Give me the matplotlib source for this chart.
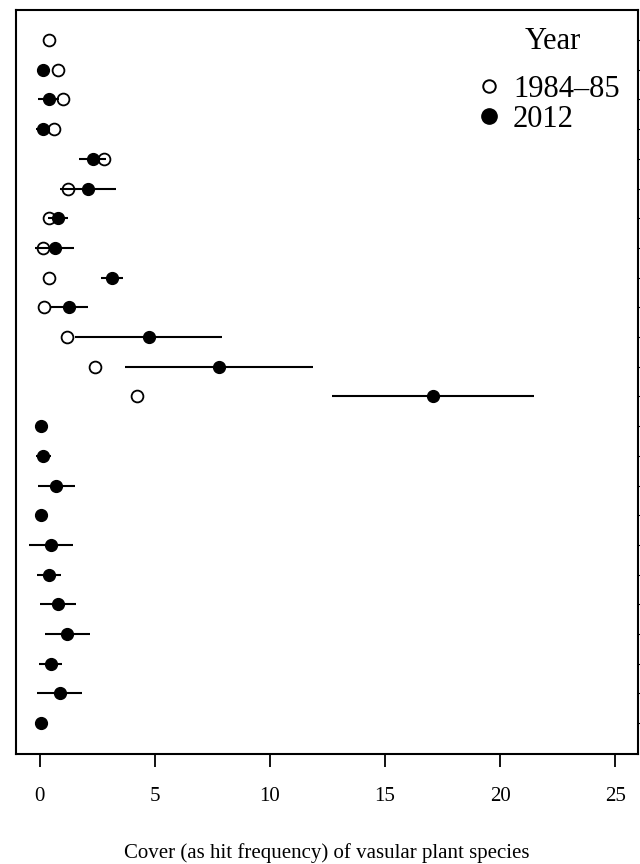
import numpy as np
import matplotlib
matplotlib.use("Agg")
import matplotlib.pyplot as plt
from matplotlib.lines import Line2D

# species rows, top to bottom (row 1 is the first species)
rows = np.arange(1, 25)

# mean cover 1984-85 (NaN where not recorded)
cover_8485 = [0.38, 0.80, 0.99, 0.61, 2.80, 1.20, 0.38, 0.14, 0.38, 0.16, 1.19, 2.41, 4.20,
              np.nan, np.nan, np.nan, np.nan, np.nan, np.nan, np.nan, np.nan, np.nan, np.nan, np.nan]

# mean cover 2012 with interval ends
cover_2012 = [np.nan, 0.14, 0.39, 0.12, 2.29, 2.07, 0.80, 0.65, 3.12, 1.26, 4.72, 7.77, 17.07,
              0.04, 0.14, 0.72, 0.06, 0.48, 0.39, 0.80, 1.19, 0.46, 0.87, 0.04]
low_2012 = [np.nan, 0.14, -0.07, -0.17, 1.71, 0.87, 0.37, -0.20, 2.65, 0.42, 1.54, 3.70, 12.68,
            0.04, -0.19, -0.07, 0.06, -0.49, -0.14, 0.01, 0.20, -0.03, -0.12, 0.04]
high_2012 = [np.nan, 0.14, 0.85, 0.41, 2.87, 3.30, 1.23, 1.48, 3.59, 2.10, 7.91, 11.86, 21.49,
             0.04, 0.48, 1.51, 0.06, 1.45, 0.91, 1.57, 2.19, 0.96, 1.84, 0.04]

x_ticks = [0, 5, 10, 15, 20, 25]

plt.rcParams['font.family'] = ['Liberation Serif', 'DejaVu Serif']

fig = plt.figure(figsize=(6.4, 8.64), dpi=100)
ax = fig.add_axes([0.025, 0.1273, 0.972, 0.8611])

c12 = np.array(cover_2012)
lo = np.array(low_2012)
hi = np.array(high_2012)

# interval segments for 2012
ax.hlines(rows, lo, hi, color='black', lw=1.5, zorder=1)

# 1984-85 open circles, 2012 filled circles
ax.plot(cover_8485, rows, 'o', ls='none', ms=8.5, mfc='none', mec='black', mew=1.3, zorder=2)
ax.plot(c12, rows, 'o', ls='none', ms=8.5, mfc='black', mec='black', zorder=3)

ax.set_xlim(-1.04, 26.0)
ax.set_ylim(25.04, -0.01)

ax.set_xticks(x_ticks)
ax.set_xticklabels([str(t) for t in x_ticks], fontsize=15)
ax.tick_params(axis='x', direction='out', length=9, width=1.3, pad=15)

ax.yaxis.tick_right()
ax.set_yticks(rows)
ax.set_yticklabels([])
ax.tick_params(axis='y', direction='out', length=6, width=0.8)

for s in ax.spines.values():
    s.set_linewidth(1.5)

fig.text(0.511, 1 - 853 / 864, 'Cover (as hit frequency) of vasular plant species',
         ha='center', va='center', fontsize=15)

# legend: heading set apart from the two entries
fig.text(553 / 640, 1 - 49 / 864, 'Year', ha='center', va='baseline', fontsize=22)
handles = [
    Line2D([], [], marker='o', ls='none', ms=9, mfc='none', mec='black', mew=1.4),
    Line2D([], [], marker='o', ls='none', ms=11, mfc='black', mec='black'),
]
leg = ax.legend(handles, ['1984\u201385', '2012'], loc='upper left',
                bbox_to_anchor=(0.74, 0.9126), frameon=False, fontsize=22,
                handletextpad=0.4, handlelength=0.8,
                labelspacing=0.03, borderaxespad=0, borderpad=0)

fig.savefig('out.png', dpi=100)
